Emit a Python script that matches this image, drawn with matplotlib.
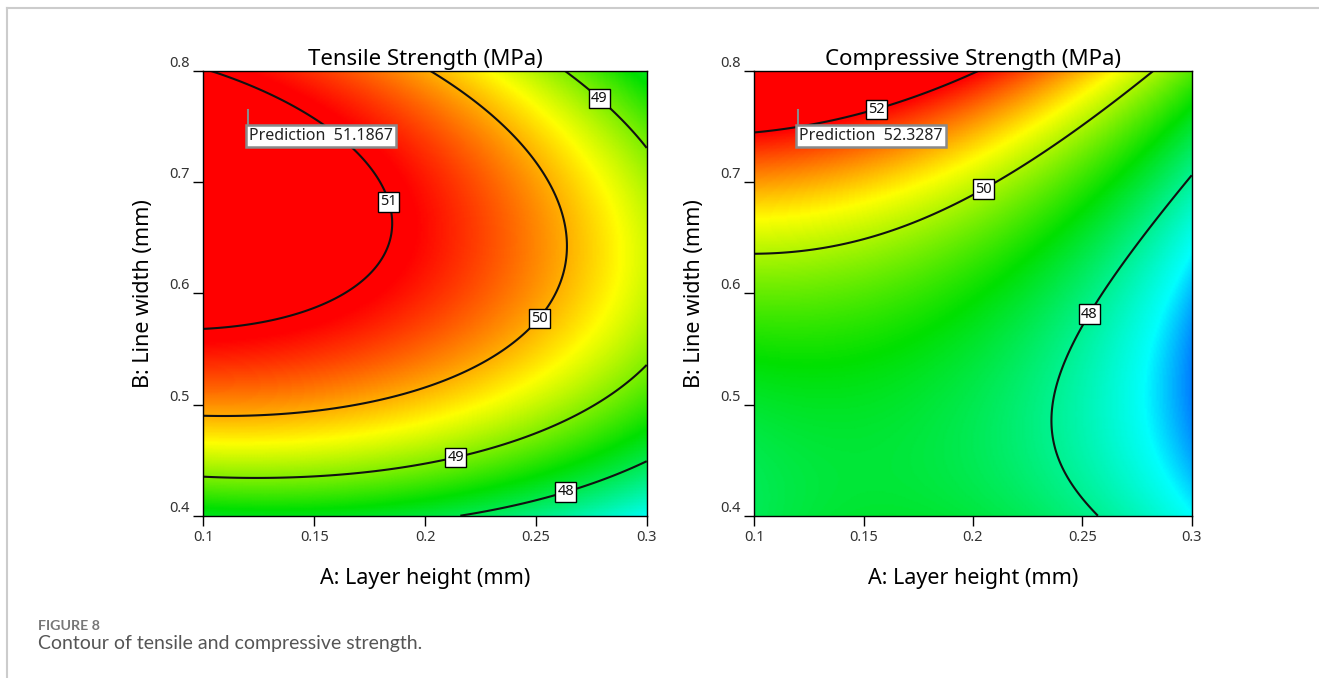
import numpy as np
import matplotlib
matplotlib.use("Agg")
import matplotlib.pyplot as plt
from matplotlib.colors import LinearSegmentedColormap, Normalize
from matplotlib.lines import Line2D

# quadratic response surfaces (actual units), estimated from the contour crossings
# terms: const, A, B, A*B, A^2, B^2
tensile_coef = [30.8141, 19.1287, 58.2744, -21.2768, -39.9047, -40.9753]
compressive_coef = [51.0894, 35.6532, -23.7324, -35.3915, -66.7002, 33.0354]

tensile_levels = [48, 49, 50, 51]
compressive_levels = [48, 50, 52]

# flag point (A, B) and its predicted values
pred_A, pred_B = 0.12, 0.765
tensile_pred = "51.1867"
compressive_pred = "52.3287"

# colour ramp anchor values (blue, cyan, green, yellow, red)
tensile_ramp = [46.4, 47.1, 48.4, 49.6, 50.9]
compressive_ramp = [46.4, 47.3, 48.9, 50.5, 52.0]

x_ticks = [0.1, 0.15, 0.2, 0.25, 0.3]
x_ticklabels = ["0.1", "0.15", "0.2", "0.25", "0.3"]
y_ticks = [0.4, 0.5, 0.6, 0.7, 0.8]
y_ticklabels = ["0.4", "0.5", "0.6", "0.7", "0.8"]

panels = [
    ("Tensile Strength (MPa)", tensile_coef, tensile_levels,
     [(0.188, 0.685), (0.25, 0.58), (0.213, 0.46), (0.283, 0.785), (0.263, 0.425)],
     tensile_pred, tensile_ramp),
    ("Compressive Strength (MPa)", compressive_coef, compressive_levels,
     [(0.155, 0.77), (0.203, 0.70), (0.25, 0.585)],
     compressive_pred, compressive_ramp),
]

colors = ["#0000ff", "#00ffff", "#00e000", "#ffff00", "#ff0000"]

W, H = 1319, 678
fig = plt.figure(figsize=(W / 100, H / 100), dpi=100)
plt.rcParams["font.family"] = ["Noto Sans", "DejaVu Sans"]

ga = np.linspace(0.1, 0.3, 300)
gb = np.linspace(0.4, 0.8, 300)
AA, BB = np.meshgrid(ga, gb)

for i, (title, c, levels, lab_pos, pred, ramp) in enumerate(panels):
    x0 = [203.3, 754.3][i]
    w = [443.4, 437.4][i]
    ax = fig.add_axes([x0 / W, 1 - 515.7 / H, w / W, 444.7 / H])
    Z = c[0] + c[1] * AA + c[2] * BB + c[3] * AA * BB + c[4] * AA ** 2 + c[5] * BB ** 2
    pos = [(v - ramp[0]) / (ramp[-1] - ramp[0]) for v in ramp]
    cmap = LinearSegmentedColormap.from_list("de", list(zip(pos, colors)))
    ax.pcolormesh(AA, BB, Z, cmap=cmap, norm=Normalize(ramp[0], ramp[-1]),
                  shading="gouraud", rasterized=True)
    cs = ax.contour(AA, BB, Z, levels=levels, colors="#111111", linewidths=1.5)
    labs = ax.clabel(cs, fmt="%d", inline=False, fontsize=10.5, manual=lab_pos)
    for t in labs:
        t.set_rotation(0)
        t.set_bbox(dict(boxstyle="square,pad=0.15", fc="white", ec="black", lw=1))
        t.set_zorder(5)

    # prediction flag
    ax.plot([pred_A, pred_A], [pred_B, pred_B - 0.016], color="#8a8a8a", lw=1.5, zorder=6)
    ax.text(pred_A + 0.0005, pred_B - 0.016, "Prediction  " + pred, ha="left", va="top",
            fontsize=11.5, color="#222222", zorder=7,
            bbox=dict(boxstyle="square,pad=0.2", fc="white", ec="#8a8a8a", lw=1.8))

    ax.set_xlim(0.1, 0.3)
    ax.set_ylim(0.4, 0.8)
    ax.set_xticks(x_ticks)
    ax.set_xticklabels(x_ticklabels)
    ax.set_yticks(y_ticks)
    ax.set_yticklabels(y_ticklabels)
    ax.tick_params(length=7, width=1, labelsize=10.5, labelcolor="#333333", pad=3)
    for t in ax.get_yticklabels():
        t.set_va("bottom")
    for s in ax.spines.values():
        s.set_linewidth(1)
    ax.set_title(title, fontsize=16, pad=4)
    ax.set_xlabel("A: Layer height (mm)", fontsize=15.5, labelpad=17)
    ax.set_ylabel("B: Line width (mm)", fontsize=15.5, labelpad=11)

# page frame and caption
fig.add_artist(Line2D([7 / W, 1], [1 - 7.5 / H] * 2, color="#cccccc", lw=1.5))
fig.add_artist(Line2D([7 / W, 7 / W], [0, 1 - 7.5 / H], color="#cccccc", lw=1.5))
fig.text(38 / W, 1 - 626 / H, "FIGURE 8", fontsize=10.3, color="#777777",
         fontweight="bold", family="Lato", va="center")
fig.text(38 / W, 1 - 644 / H, "Contour of tensile and compressive strength.",
         fontsize=14, color="#555555", family="Lato", va="center")

fig.savefig("out.png", dpi=100)
